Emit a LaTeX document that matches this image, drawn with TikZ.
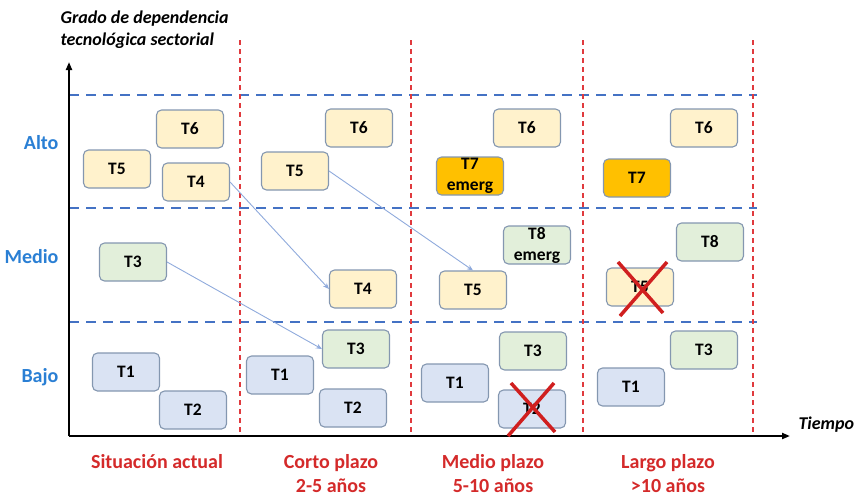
\documentclass[tikz,border=0pt]{standalone}
\usepackage{fontspec}
\setmainfont{Carlito}
\usetikzlibrary{arrows.meta}
\definecolor{yelf}{HTML}{FFF2CC}
\definecolor{grnf}{HTML}{E2EFDA}
\definecolor{bluf}{HTML}{DAE3F3}
\definecolor{orgf}{HTML}{FFC000}
\definecolor{bordc}{HTML}{8497B0}
\definecolor{hdash}{HTML}{4472C4}
\definecolor{vdash}{HTML}{E03A3E}
\definecolor{lblred}{HTML}{D42A2A}
\definecolor{lblblue}{HTML}{2A7FD4}
\definecolor{arrc}{HTML}{8FAADC}
\definecolor{crossc}{HTML}{D01F1F}
\begin{document}
\begin{tikzpicture}[x=1pt,y=-1pt,
  tbox/.style={draw=bordc, line width=1.1pt, rounded corners=5pt, minimum width=67pt, minimum height=38pt,
    font=\bfseries\fontsize{17.5}{21}\selectfont, inner sep=0pt, align=center},
  yel/.style={tbox, fill=yelf},
  grn/.style={tbox, fill=grnf},
  blu/.style={tbox, fill=bluf},
  org/.style={tbox, fill=orgf},
  axisline/.style={line width=2pt, -{Triangle[length=8pt,width=6pt]}},
  hline/.style={hdash, line width=2.2pt, dash pattern=on 10pt off 7pt},
  vline/.style={vdash, line width=1.8pt, dash pattern=on 5pt off 4pt},
  conn/.style={arrc, line width=0.9pt, -{Stealth[length=6pt,width=5pt]}},
  crossline/.style={crossc, line width=3.5pt},
  period/.style={lblred, font=\bfseries\fontsize{20}{24}\selectfont, align=center, anchor=north},
  level/.style={lblblue, font=\bfseries\fontsize{20}{22}\selectfont, anchor=east},
  axtitle/.style={font=\bfseries\itshape\fontsize{18}{22}\selectfont, align=left}
]
\useasboundingbox (0,0) rectangle (856,499);

% grid lines
\coordinate (h1a) at (69,95);  \coordinate (h1b) at (757,95);
\coordinate (h2a) at (69,208); \coordinate (h2b) at (757,208);
\coordinate (h3a) at (69,322); \coordinate (h3b) at (757,322);
\draw[hline] (h1a) -- (h1b);
\draw[hline] (h2a) -- (h2b);
\draw[hline] (h3a) -- (h3b);
\foreach \xx in {240,411,583,753}{
  \draw[vline] (\xx,40) -- (\xx,436);
}

% axes
\coordinate (O) at (69,436);
\coordinate (ytip) at (69,62);
\coordinate (xtip) at (790,436);
\draw[axisline] (O) -- (ytip);
\draw[axisline] (O) -- (xtip);

% axis titles
\node[axtitle, anchor=west] (ytitle) at (57,30) {Grado de dependencia\\tecnológica sectorial};
\node[axtitle, anchor=west] (xtitle) at (795,425) {Tiempo};

% level labels
\node[level] (alto) at (62,143) {Alto};
\node[level] (medio) at (62,257) {Medio};
\node[level] (bajo) at (62,377) {Bajo};

% period labels
\node[period] (p1) at (157,451) {Situación actual};
\node[period] (p2) at (331,451) {Corto plazo\\2-5 años};
\node[period] (p3) at (493,451) {Medio plazo\\5-10 años};
\node[period] (p4) at (668,451) {Largo plazo\\>10 años};

% column 1
\node[yel] (T6a) at (190,129) {T6};
\node[yel] (T5a) at (117,169) {T5};
\node[yel] (T4a) at (196,182) {T4};
\node[grn] (T3a) at (133,262) {T3};
\node[blu] (T1a) at (126,372) {T1};
\node[blu] (T2a) at (193,410) {T2};

% column 2
\node[yel] (T6b) at (359,128) {T6};
\node[yel] (T5b) at (295,171) {T5};
\node[yel] (T4b) at (363,289) {T4};
\node[grn] (T3b) at (356,349) {T3};
\node[blu] (T1b) at (280,375) {T1};
\node[blu] (T2b) at (353,408) {T2};

% column 3
\node[yel] (T6c) at (527,128) {T6};
\node[org] (T7c) at (470,176) {T7\\emerg};
\node[grn] (T8c) at (537,245) {T8\\emerg};
\node[yel] (T5c) at (473,290) {T5};
\node[grn] (T3c) at (533,351) {T3};
\node[blu] (T1c) at (455,383) {T1};
\node[blu] (T2c) at (532,409) {T2};

% column 4
\node[yel] (T6d) at (704,128) {T6};
\node[org] (T7d) at (637,178) {T7};
\node[grn] (T8d) at (710,242) {T8};
\node[yel] (T5d) at (640,287) {T5};
\node[grn] (T3d) at (704,350) {T3};
\node[blu] (T1d) at (631,387) {T1};

% connectors
\draw[conn] (T4a.east) -- (T4b.west);
\draw[conn] (T3a.east) -- (T3b.west);
\draw[conn] (T5b.east) -- (T5c.north);

% crosses
\draw[crossline] ([shift={(-22,-25)}]T5d.center) -- ([shift={(23,26)}]T5d.center);
\draw[crossline] ([shift={(27,-25)}]T5d.center) -- ([shift={(-20,29)}]T5d.center);
\draw[crossline] ([shift={(-24,27)}]T2c.center) -- ([shift={(22,-26)}]T2c.center);
\draw[crossline] ([shift={(-21,-26)}]T2c.center) -- ([shift={(23,23)}]T2c.center);
\end{tikzpicture}
\end{document}
